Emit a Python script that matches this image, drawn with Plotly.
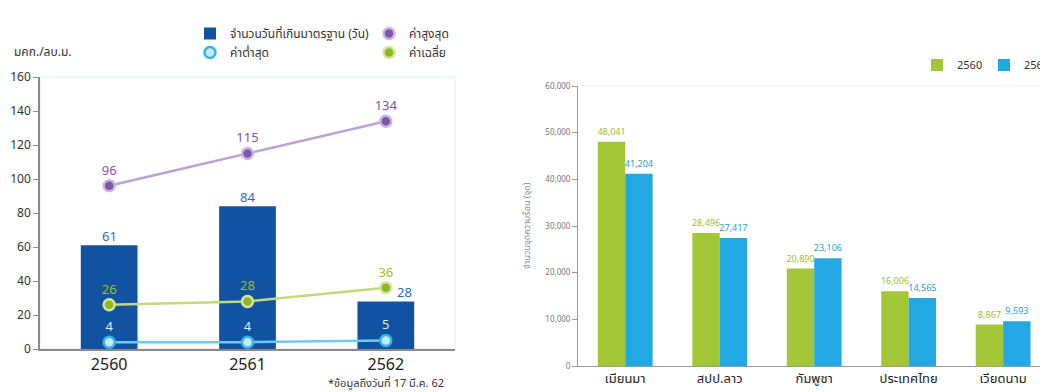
import plotly.graph_objects as go

# ---------------- data ----------------
years = ["2560", "2561", "2562"]
days_over = [61, 84, 28]
max_vals = [96, 115, 134]
avg_vals = [26, 28, 36]
min_vals = [4, 4, 5]

countries = ["เมียนมา", "สปป.ลาว", "กัมพูชา", "ประเทศไทย", "เวียดนาม"]
hot_2560 = [48041, 28496, 20890, 16006, 8867]
hot_2561 = [41204, 27417, 23106, 14565, 9593]

left_ticks = [0, 20, 40, 60, 80, 100, 120, 140, 160]
right_ticks = [0, 10000, 20000, 30000, 40000, 50000, 60000]

# ---------------- style ----------------
W, H = 1040, 392
FONT = "Noto Sans Thai, Noto Sans, sans-serif"
def px_x(p):
    return p / W
def px_y(p):
    return (H - p) / H

C_BAR = "#1252a3"
C_BAR_TXT = "#2a6cc0"
C_MAX_LINE, C_MAX, C_MAX_RING, C_MAX_TXT = "#b9a2d8", "#7c56a8", "#cbb6e3", "#7a58a6"
C_AVG_LINE, C_AVG, C_AVG_RING, C_AVG_TXT = "#c3da78", "#8cb822", "#d3e69c", "#98bf2c"
C_MIN_LINE, C_MIN, C_MIN_RING, C_MIN_TXT = "#6fcaf2", "#c4ebfb", "#38b3ea", "#d6f1fc"
C_G, C_B = "#a3c636", "#22a8e4"

fig = go.Figure()

# ---------- left chart ----------
fig.add_trace(go.Bar(
    x=years, y=days_over, name="จำนวนวันที่เกินมาตรฐาน (วัน)",
    marker=dict(color=C_BAR, line=dict(width=0)), width=0.41, offset=-0.205,
    xaxis="x", yaxis="y", legend="legend", legendrank=1,
))
for vals, lc in [(max_vals, C_MAX_LINE), (avg_vals, C_AVG_LINE), (min_vals, C_MIN_LINE)]:
    fig.add_trace(go.Scatter(
        x=years, y=vals, mode="lines", line=dict(color=lc, width=2.5),
        showlegend=False, hoverinfo="skip", xaxis="x", yaxis="y",
    ))
fig.add_trace(go.Scatter(
    x=years, y=max_vals, mode="markers+text", name="ค่าสูงสุด",
    marker=dict(color=C_MAX, size=11, line=dict(color=C_MAX_RING, width=2.5)),
    text=[str(v) for v in max_vals], textposition="top center",
    textfont=dict(color=C_MAX_TXT, size=13, family=FONT),
    xaxis="x", yaxis="y", legend="legend2", legendrank=1,
))
fig.add_trace(go.Scatter(
    x=years, y=avg_vals, mode="markers+text", name="ค่าเฉลี่ย",
    marker=dict(color=C_AVG, size=11, line=dict(color=C_AVG_RING, width=2.5)),
    text=[str(v) for v in avg_vals], textposition="top center",
    textfont=dict(color=C_AVG_TXT, size=13, family=FONT),
    xaxis="x", yaxis="y", legend="legend2", legendrank=2,
))
fig.add_trace(go.Scatter(
    x=years, y=min_vals, mode="markers+text", name="ค่าต่ำสุด",
    marker=dict(color=C_MIN, size=11, line=dict(color=C_MIN_RING, width=2.5)),
    text=[str(v) for v in min_vals], textposition="top center",
    textfont=dict(color=C_MIN_TXT, size=13, family=FONT),
    xaxis="x", yaxis="y", legend="legend", legendrank=2,
))

annotations = []
bar_label_dx = [0, 0, 19]
for i, (v, dx) in enumerate(zip(days_over, bar_label_dx)):
    annotations.append(dict(
        x=i, y=v, xref="x", yref="y", text=str(v), showarrow=False,
        yanchor="bottom", yshift=-4, xshift=dx,
        font=dict(color=C_BAR_TXT, size=13, family=FONT),
    ))

# ---------- right chart ----------
fig.add_trace(go.Bar(
    x=countries, y=hot_2560, name="2560",
    marker=dict(color=C_G, line=dict(width=0)), width=0.29, offset=-0.29,
    text=[f"{v:,}" for v in hot_2560], textposition="outside", constraintext="none",
    textfont=dict(color="#9cc130", size=9, family=FONT), cliponaxis=False,
    xaxis="x2", yaxis="y2", legend="legend3",
))
fig.add_trace(go.Bar(
    x=countries, y=hot_2561, name="2561",
    marker=dict(color=C_B, line=dict(width=0)), width=0.29, offset=0.0,
    text=[f"{v:,}" for v in hot_2561], textposition="outside", constraintext="none",
    textfont=dict(color="#1aa3e0", size=9, family=FONT), cliponaxis=False,
    xaxis="x2", yaxis="y2", legend="legend3",
))

annotations += [
    dict(x=px_x(12), y=px_y(52), xref="paper", yref="paper", xanchor="left", yanchor="middle",
         text="มคก./ลบ.ม.", showarrow=False, font=dict(size=12, color="#333", family=FONT)),
    dict(x=px_x(446), y=px_y(383), xref="paper", yref="paper", xanchor="right", yanchor="middle",
         text="*ข้อมูลถึงวันที่ 17 มี.ค. 62", showarrow=False, font=dict(size=11, color="#333", family=FONT)),
    dict(x=px_x(527), y=px_y(226), xref="paper", yref="paper", xanchor="center", yanchor="middle",
         text="จำนวนจุดความร้อน (จุด)", textangle=-90, showarrow=False,
         font=dict(size=9, color="#888", family=FONT)),
]

shapes = [
    dict(type="rect", xref="x domain", yref="y domain", x0=0, x1=1, y0=0, y1=1,
         line=dict(color="#e1ebf6", width=1), layer="below"),
    dict(type="line", xref="x2 domain", yref="y2 domain", x0=0, x1=1, y0=1, y1=1,
         line=dict(color="#eef1f5", width=1), layer="below"),
]

fig.update_layout(
    width=W, height=H,
    margin=dict(l=0, r=0, t=0, b=0, autoexpand=False),
    paper_bgcolor="white", plot_bgcolor="white",
    font=dict(family=FONT, color="#333"),
    barmode="overlay",
    showlegend=True,
    xaxis=dict(domain=[px_x(40), px_x(455)], type="category", range=[-0.5, 2.5],
               showline=True, linecolor="#8a8a8a", linewidth=1.5, ticks="",
               tickfont=dict(size=16, color="#222", family=FONT), showgrid=False, zeroline=False),
    yaxis=dict(domain=[px_y(349), px_y(77)], range=[0, 160], tickvals=left_ticks,
               showline=True, linecolor="#8a8a8a", linewidth=1.5, ticks="outside", ticklen=5,
               tickcolor="#8a8a8a", tickfont=dict(size=12, color="#333", family=FONT),
               showgrid=False, zeroline=False),
    xaxis2=dict(domain=[px_x(578), 1.0], type="category", range=[-0.5, 4.39],
                showline=True, linecolor="#9a9a9a", linewidth=1, ticks="",
                tickfont=dict(size=13, color="#222", family=FONT), showgrid=False, zeroline=False,
                anchor="y2"),
    yaxis2=dict(domain=[px_y(366), px_y(86)], range=[0, 60000], tickvals=right_ticks,
                tickformat=",", showline=True, linecolor="#9a9a9a", linewidth=1,
                ticks="outside", ticklen=5, tickcolor="#9a9a9a",
                tickfont=dict(size=8, color="#777", family=FONT),
                showgrid=False, zeroline=False, anchor="x2"),
    legend=dict(x=px_x(190), y=px_y(19), xanchor="left", yanchor="top", orientation="v",
                font=dict(size=12, color="#333", family=FONT), bgcolor="rgba(0,0,0,0)",
                tracegroupgap=0, itemwidth=30, traceorder="normal"),
    legend2=dict(x=px_x(369), y=px_y(19), xanchor="left", yanchor="top", orientation="v",
                 font=dict(size=12, color="#333", family=FONT), bgcolor="rgba(0,0,0,0)",
                 tracegroupgap=0, itemwidth=30, traceorder="normal"),
    legend3=dict(x=px_x(917), y=px_y(65), xanchor="left", yanchor="middle", orientation="h",
                 font=dict(size=11, color="#333", family=FONT), bgcolor="rgba(0,0,0,0)",
                 itemwidth=30, entrywidth=22, entrywidthmode="pixels"),
    annotations=annotations,
    shapes=shapes,
)

fig.write_html("out.html")
